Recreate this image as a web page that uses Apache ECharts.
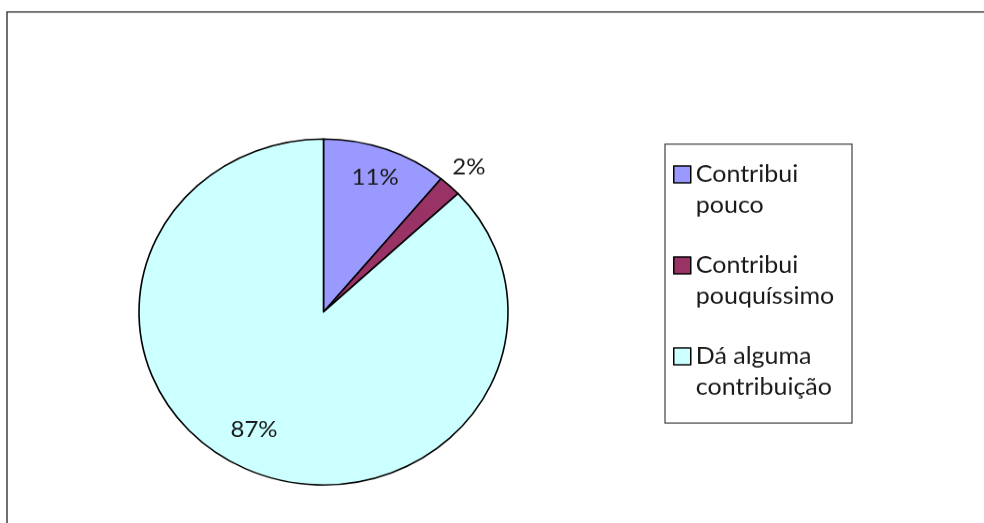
<!DOCTYPE html>
<html>
<head>
<meta charset="utf-8">
<script src="https://cdn.jsdelivr.net/npm/echarts@6/dist/echarts.min.js"></script>
<style>
html,body{margin:0;padding:0;background:#fff;}
#wrap{width:984px;height:523px;overflow:hidden;position:relative;}
#chart{width:984px;height:558px;transform:scaleY(0.93767);transform-origin:0 0;}
</style>
</head>
<body>
<div id="wrap"><div id="chart"></div></div>
<script>
const categories = ['Contribui pouco', 'Contribui pouquíssimo', 'Dá alguma contribuição'];
const legendLabels = ['Contribui\npouco', 'Contribui\npouquíssimo', 'Dá alguma\ncontribuição'];
const values = [11, 2, 87];
const colors = ['#9999FF', '#993366', '#CCFFFF'];

// The chart is drawn at full height then squeezed vertically (Excel's oval pie)
const PIE_CX = 323.5, PIE_CY = 332.7, PIE_R = 184.5;
const labelRadiusFactor = [0.80, 1.115, 0.72];
const labelExtraDx = [0, 0, -15];

const chart = echarts.init(document.getElementById('chart'), null, {renderer: 'canvas'});
const option = {
  animation: false,
  backgroundColor: '#fff',
  textStyle: {fontFamily: 'Lato'},
  graphic: [
    {type: 'rect', shape: {x: 7, y: 12.8, width: 1000, height: 700},
     style: {fill: 'none', stroke: '#404040', lineWidth: 1.5}, z: 0},
    {type: 'rect', shape: {x: 665, y: 153.6, width: 187, height: 297.5},
     style: {fill: 'none', stroke: '#404040', lineWidth: 1.2}, z: 0}
  ],
  legend: {
    orient: 'vertical',
    left: 673,
    top: 136.5,
    padding: 0,
    itemWidth: 17,
    itemHeight: 18,
    itemGap: -2,
    icon: 'rect',
    itemStyle: {borderColor: '#000', borderWidth: 1.5},
    data: categories,
    formatter: function (name) { return '\n' + legendLabels[categories.indexOf(name)]; },
    textStyle: {fontFamily: 'Lato', fontSize: 25, color: '#1a1a1a', lineHeight: 33}
  },
  series: [{
    type: 'pie',
    center: [PIE_CX, PIE_CY],
    radius: PIE_R,
    startAngle: 90,
    clockwise: true,
    avoidLabelOverlap: false,
    data: categories.map((c, i) => ({name: c, value: values[i], itemStyle: {color: colors[i]}})),
    itemStyle: {borderColor: '#000', borderWidth: 1.6},
    label: {
      show: true,
      position: 'inside',
      formatter: '{d}%',
      fontFamily: 'Lato',
      fontSize: 24,
      color: '#1a1a1a'
    },
    labelLine: {show: false},
    labelLayout: function (params) {
      const r = params.labelRect;
      const lx = r.x + r.width / 2, ly = r.y + r.height / 2;
      const k = labelRadiusFactor[params.dataIndex] / 0.5 - 1;
      return {dx: (lx - PIE_CX) * k + labelExtraDx[params.dataIndex], dy: (ly - PIE_CY) * k};
    },
    emphasis: {disabled: true}
  }]
};
chart.setOption(option);
</script>
</body>
</html>
